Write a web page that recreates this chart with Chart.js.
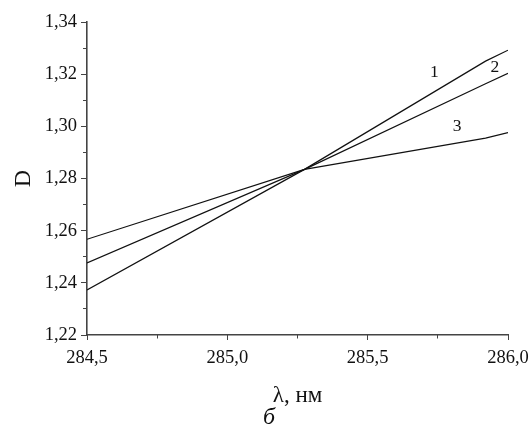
<!DOCTYPE html>
<html>
<head>
<meta charset="utf-8">
<script src="https://cdn.jsdelivr.net/npm/chart.js@4"></script>
<style>
  html, body { margin: 0; padding: 0; background: #fff; }
  #wrap { width: 531px; height: 427px; }
</style>
</head>
<body>
<div id="wrap"><canvas id="myLineChart"></canvas></div>
<script>
// wavelength, nm
const wavelengths = [284.5, 285.275, 285.92, 286.0];

// optical density for curves 1, 2, 3
const curve1 = [1.2373, 1.2835, 1.3250, 1.3292];
const curve2 = [1.2476, 1.2835, 1.3163, 1.3203];
const curve3 = [1.2567, 1.2835, 1.2955, 1.2976];

const curveNames = ['1', '2', '3'];
// where the curve numbers sit, in data units
const curveLabelX = [285.738, 285.953, 285.819];
const curveLabelY = [1.3207, 1.3226, 1.3000];

const serif = 'Liberation Serif, Times New Roman, serif';
const axisColor = '#444';

function toPoints(ys) {
    return wavelengths.map((x, i) => ({ x: x, y: ys[i] }));
}

function commaTick(digits) {
    return value => Number(value).toFixed(digits).replace('.', ',');
}

const curveLabels = {
    id: 'curveLabels',
    afterDatasetsDraw(chart) {
        const ctx = chart.ctx;
        const xs = chart.scales.x;
        const ys = chart.scales.y;
        ctx.save();
        ctx.fillStyle = '#111';
        ctx.font = '17.5px ' + serif;
        ctx.textAlign = 'center';
        ctx.textBaseline = 'middle';
        curveNames.forEach((name, i) => {
            ctx.fillText(name, xs.getPixelForValue(curveLabelX[i]), ys.getPixelForValue(curveLabelY[i]));
        });
        ctx.restore();
    }
};

const lineStyle = {
    fill: false,
    borderColor: '#111',
    borderWidth: 1.2,
    pointRadius: 0,
    tension: 0
};

const config = {
    type: 'line',
    data: {
        datasets: [
            Object.assign({ label: '1', data: toPoints(curve1) }, lineStyle),
            Object.assign({ label: '2', data: toPoints(curve2) }, lineStyle),
            Object.assign({ label: '3', data: toPoints(curve3) }, lineStyle)
        ]
    },
    options: {
        responsive: true,
        maintainAspectRatio: false,
        animation: false,
        layout: { padding: { left: 0, top: 22, right: 23, bottom: 0 } },
        plugins: {
            legend: { display: false },
            tooltip: { enabled: false },
            subtitle: {
                display: true,
                // leading spaces nudge the caption right, as in the figure
                text: '     б',
                position: 'bottom',
                color: '#111',
                font: { family: serif, size: 24, style: 'italic', lineHeight: 0.75 },
                padding: { top: 0, bottom: 0 }
            }
        },
        scales: {
            x: {
                type: 'linear',
                position: 'bottom',
                weight: 1,
                min: 284.5,
                max: 286.0,
                afterFit: scale => { scale.height = 74; },
                ticks: {
                    stepSize: 0.5,
                    color: '#111',
                    padding: 2,
                    maxRotation: 0,
                    font: { family: serif, size: 18.5, lineHeight: 1.75 },
                    callback: commaTick(1)
                },
                grid: { drawOnChartArea: false, tickLength: 5, tickColor: axisColor, tickWidth: 1 },
                border: { color: axisColor, width: 1.6 },
                title: {
                    display: true,
                    text: 'λ, нм',
                    color: '#111',
                    font: { family: serif, size: 23, lineHeight: 0.8 },
                    padding: { top: 0, bottom: 4 }
                }
            },
            xMinor: {
                type: 'linear',
                position: 'bottom',
                weight: 0,
                min: 284.5,
                max: 286.0,
                afterFit: scale => { scale.height = 0; },
                ticks: { stepSize: 0.25, display: false },
                grid: { drawOnChartArea: false, tickLength: 3.5, tickColor: axisColor, tickWidth: 1 },
                border: { display: false }
            },
            y: {
                type: 'linear',
                position: 'left',
                weight: 1,
                min: 1.22,
                max: 1.34,
                afterFit: scale => { scale.width = 87; },
                ticks: {
                    stepSize: 0.02,
                    color: '#111',
                    padding: 4,
                    font: { family: serif, size: 18.5 },
                    callback: commaTick(2)
                },
                grid: { drawOnChartArea: false, tickLength: 6, tickColor: axisColor, tickWidth: 1 },
                border: { color: axisColor, width: 1.6 },
                title: {
                    display: true,
                    text: 'D',
                    color: '#111',
                    font: { family: serif, size: 24 },
                    padding: { top: 9, bottom: 0 }
                }
            },
            yMinor: {
                type: 'linear',
                position: 'left',
                weight: 0,
                min: 1.22,
                max: 1.34,
                afterFit: scale => { scale.width = 0; },
                ticks: { stepSize: 0.01, display: false },
                grid: { drawOnChartArea: false, tickLength: 4, tickColor: axisColor, tickWidth: 1 },
                border: { display: false }
            }
        }
    },
    plugins: [curveLabels]
};

new Chart(
    document.getElementById('myLineChart'),
    config
);
</script>
</body>
</html>
